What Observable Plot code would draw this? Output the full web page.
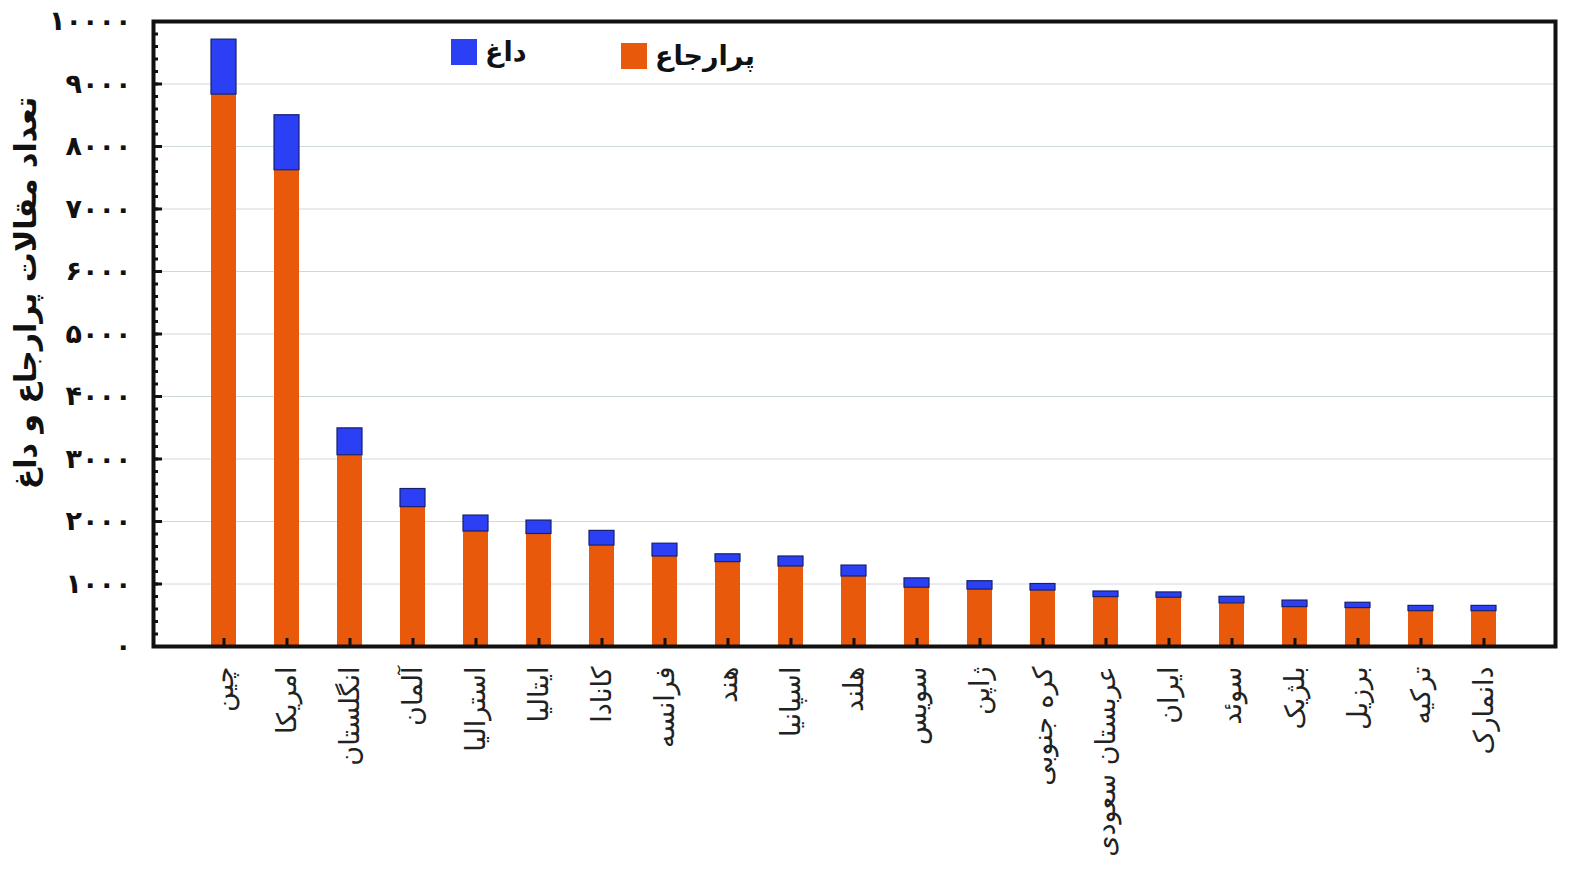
<!DOCTYPE html>
<html><head><meta charset="utf-8">
<script src="https://cdn.jsdelivr.net/npm/d3@7"></script>
<script src="https://cdn.jsdelivr.net/npm/@observablehq/plot@0.6"></script>
<style>
body{margin:0;background:#fff;font-family:"DejaVu Sans",sans-serif}
#wrap{position:relative;width:1575px;height:872px;overflow:hidden}
.leg{position:absolute;display:flex;align-items:center;direction:ltr;font-weight:bold;font-size:27px;color:#111}
.sw{width:26px;height:26px;margin-right:8px}
</style></head>
<body><div id="wrap"></div>
<script>
const countries = ["چین","امریکا","انگلستان","آلمان","استرالیا","ایتالیا","کانادا","فرانسه","هند","اسپانیا","هلند","سویس","ژاپن","کره جنوبی","عربستان سعودی","ایران","سوئد","بلژیک","برزیل","ترکیه","دانمارک"];
const highlyCited = [8830,7620,3060,2230,1840,1800,1615,1440,1350,1280,1120,940,910,895,790,780,690,630,615,565,565];
const hot = [880,880,430,290,255,215,235,205,125,160,175,150,135,105,90,85,105,105,85,85,85];
const yTicks = [0,1000,2000,3000,4000,5000,6000,7000,8000,9000,10000];
const yMinorTicks = d3.range(0, 10001, 200);
const seriesNames = ["پرارجاع","داغ"];
const seriesColors = ["#e8590c","#2b40f4"];
const yLabel = "تعداد مقالات پرارجاع و داغ";

const rows = countries.map((c,i)=>({country:c, base:highlyCited[i], top:highlyCited[i]+hot[i]}));
const fa = d => String(d).replace(/\d/g, c => "۰۱۲۳۴۵۶۷۸۹"[+c]);

const chart = Plot.plot({
  width:1575, height:872,
  marginLeft:153, marginRight:20, marginTop:21, marginBottom:226,
  style:{fontFamily:'"DejaVu Sans", sans-serif', background:"#fff", color:"#111"},
  x:{domain:countries, paddingInner:0.597, paddingOuter:0.7985, label:null},
  y:{domain:[0,10000], label:null},
  marks:[
    Plot.gridY(yTicks.filter(d=>d>0&&d<10000), {stroke:"#cfd8db", strokeOpacity:1}),
    Plot.barY(rows, {x:"country", y1:0, y2:"base", fill:seriesColors[0]}),
    Plot.barY(rows, {x:"country", y1:"base", y2:"top", fill:seriesColors[1], stroke:"#15206e", strokeWidth:1.2}),
    Plot.axisY(yMinorTicks, {tickSize:-5, tickFormat:()=>"", strokeWidth:3, stroke:"#111"}),
    Plot.axisY(yTicks, {tickSize:-9, tickFormat:()=>"", strokeWidth:3, stroke:"#111"}),
    Plot.axisY(yTicks, {tickSize:0, tickPadding:22, tickFormat:fa, fontSize:27, fontWeight:"bold", fill:"#111", label:null}),
    Plot.axisX({tickSize:-8, tickFormat:()=>"", strokeWidth:3, stroke:"#111"}),
    Plot.axisX({tickSize:0, tickPadding:20, tickRotate:-90, fontSize:27, fill:"#222", label:null}),
    Plot.frame({stroke:"#111", strokeWidth:4}),
    Plot.text([yLabel], {text:d=>d, frameAnchor:"left", textAnchor:"middle", rotate:-90, dx:-127, dy:-41, fontSize:30, fontWeight:"bold", fill:"#111"})
  ]
});
const wrap = document.getElementById("wrap");
wrap.appendChild(chart);
const legendPos = [{left:621, top:40}, {left:451, top:36}];
seriesNames.forEach((name,i)=>{
  const d = document.createElement("div");
  d.className = "leg";
  d.style.left = legendPos[i].left + "px";
  d.style.top = legendPos[i].top + "px";
  d.innerHTML = `<div class="sw" style="background:${seriesColors[i]}"></div><span>${name}</span>`;
  wrap.appendChild(d);
});
</script>
</body></html>
